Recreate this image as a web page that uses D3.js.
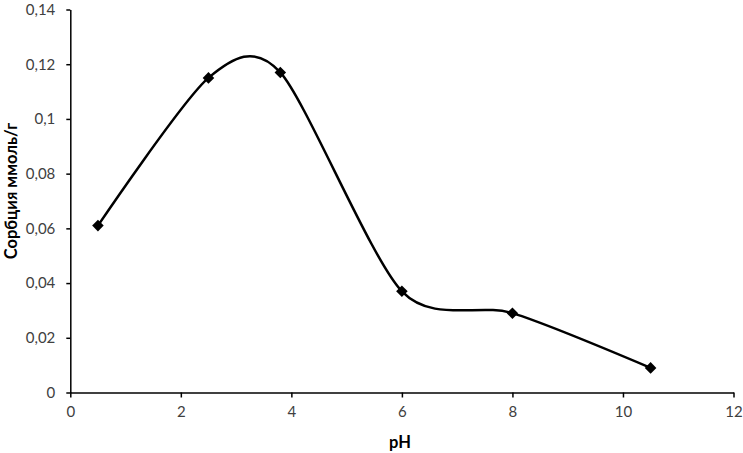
<!DOCTYPE html>
<meta charset="utf-8">
<style>
    body { margin: 0; background: #ffffff; }
    text { font-family: Lato, "Open Sans", sans-serif; fill: #000000; }
    .tick text { font-size: 15px; fill: #404040; }
    .axis-title { font-size: 16.5px; font-weight: bold; }
</style>
<body>
<div id="chart"></div>
<script src="https://d3js.org/d3.v7.min.js"></script>
<script>

    // pH vs sorption (mmol/g)
    var phValues = [0.5, 2.5, 3.8, 6, 8, 10.5];
    var sorption = [0.061, 0.115, 0.117, 0.037, 0.029, 0.009];

    var xTicks = [0, 2, 4, 6, 8, 10, 12];
    var yTicks = [0, 0.02, 0.04, 0.06, 0.08, 0.1, 0.12, 0.14];

    var svg_dx = 743,
        svg_dy = 453;

    var x = d3.scaleLinear().domain([0, 12]).range([70.3, 733.5]),
        y = d3.scaleLinear().domain([0, 0.14]).range([392.5, 9.5]);

    var fmt = v => String(v).replace(".", ",");

    var svg = d3.select("#chart")
                .append("svg")
                .attr("width", svg_dx)
                .attr("height", svg_dy);

    var axis_x = d3.axisBottom(x)
                   .tickValues(xTicks)
                   .tickFormat(fmt)
                   .tickSizeOuter(0)
                   .tickSizeInner(5)
                   .tickPadding(9),
        axis_y = d3.axisLeft(y)
                   .tickValues(yTicks)
                   .tickFormat(fmt)
                   .tickSizeOuter(0)
                   .tickSizeInner(4)
                   .tickPadding(11);

    svg.append("g")
       .attr("transform", "translate(0," + y(0) + ")")
       .call(axis_x);

    svg.append("g")
       .attr("transform", "translate(" + x(0) + ",0)")
       .call(axis_y);

    svg.selectAll(".domain, .tick line")
       .attr("stroke", "#000")
       .attr("stroke-width", 1.5);

    svg.append("text")
       .attr("class", "axis-title")
       .attr("x", 400)
       .attr("y", 448)
       .attr("text-anchor", "middle")
       .text("pH");

    svg.append("text")
       .attr("class", "axis-title")
       .attr("transform", "translate(17,191) rotate(-90)")
       .attr("text-anchor", "middle")
       .text("Сорбция ммоль/г");

    var pts = phValues.map((p, i) => [p, sorption[i]]);

    var line = d3.line()
                 .x(d => x(d[0]))
                 .y(d => y(d[1]))
                 .curve(d3.curveCardinal.tension(0.2));

    svg.append("path")
       .datum(pts)
       .attr("d", line)
       .attr("fill", "none")
       .attr("stroke", "#000")
       .attr("stroke-width", 2.5);

    svg.append("g")
       .selectAll("path")
       .data(pts)
       .enter()
       .append("path")
       .attr("d", d3.symbol().type(d3.symbolDiamond2).size(85))
       .attr("transform", d => "translate(" + x(d[0]) + "," + y(d[1]) + ")")
       .attr("fill", "#000");

</script>
</body>
